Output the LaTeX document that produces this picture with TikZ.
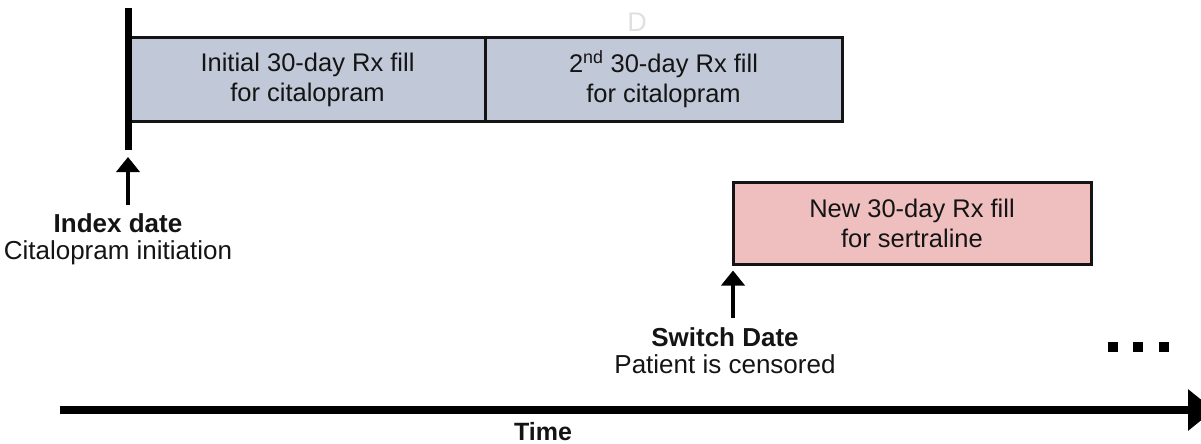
\documentclass[tikz,border=0pt]{standalone}
\usepackage{fontspec}
\setmainfont{Liberation Sans}
\usetikzlibrary{arrows.meta,calc}
\definecolor{boxblue}{RGB}{193,200,216}
\definecolor{boxpink}{RGB}{239,191,192}
\definecolor{ink}{RGB}{20,20,20}
\begin{document}
\begin{tikzpicture}[x=1pt,y=-1pt,
  fillbox/.style={draw=ink,line width=3pt,inner sep=0pt,align=center,text=ink,
    font=\fontsize{25.5}{30}\selectfont},
  lbl/.style={align=center,inner sep=0pt,text=ink,font=\fontsize{26}{27.5}\selectfont},
  uparrow/.style={draw=black,line width=4.5pt,-{Triangle[length=15pt,width=23pt]}},
  timearrow/.style={draw=black,line width=8pt,-{Triangle[length=26pt,width=40pt]}},
  barline/.style={draw=black,line width=7pt},
  dotsq/.style={fill=black},
]
\useasboundingbox (0,0) rectangle (1201,444);
\clip (0,0) rectangle (1201,444);

% faint letter
\node[text=black!12,inner sep=0pt,font=\fontsize{27}{27}\selectfont] (ghost) at (637,22) {D};

% prescription boxes
\node[fillbox,fill=boxblue,minimum width=355pt,minimum height=83pt] (fill1) at (307.5,79.5)
  {Initial 30-day Rx fill\\for citalopram};
\node[fillbox,fill=boxblue,minimum width=357pt,minimum height=83pt] (fill2) at (663.5,79.5)
  {2\textsuperscript{nd} 30-day Rx fill\\for citalopram};
\node[fillbox,fill=boxpink,minimum width=358pt,minimum height=82pt] (fill3) at (912,223)
  {New 30-day Rx fill\\for sertraline};

% index bar
\coordinate (bartop) at (128,8);
\coordinate (barbot) at (128,150);
\draw[barline] (bartop) -- (barbot);

% index label and arrow
\node[lbl,anchor=north] (idx) at (118,213) {\textbf{Index date}\\Citalopram initiation};
\draw[uparrow] ($(idx.north -| barbot)+(0,-8)$) -- ($(barbot)+(0,7)$);

% switch label and arrow
\node[lbl,anchor=north] (sw) at (725,327) {\textbf{Switch Date}\\Patient is censored};
\draw[uparrow] ($(sw.north -| fill3.south west)+(1.5,-9)$) -- ($(fill3.south west)+(1.5,5)$);

% continuation dots
\fill[dotsq] (1108,342) rectangle (1118,352);
\fill[dotsq] (1133,342) rectangle (1143,352);
\fill[dotsq] (1159,342) rectangle (1169,352);

% time axis
\coordinate (tstart) at (60,410);
\coordinate (tend) at (1214,410);
\draw[timearrow] (tstart) -- (tend);
\node[lbl,anchor=north,font=\bfseries\fontsize{25}{26}\selectfont] (time) at (543,422) {Time};
\end{tikzpicture}
\end{document}
